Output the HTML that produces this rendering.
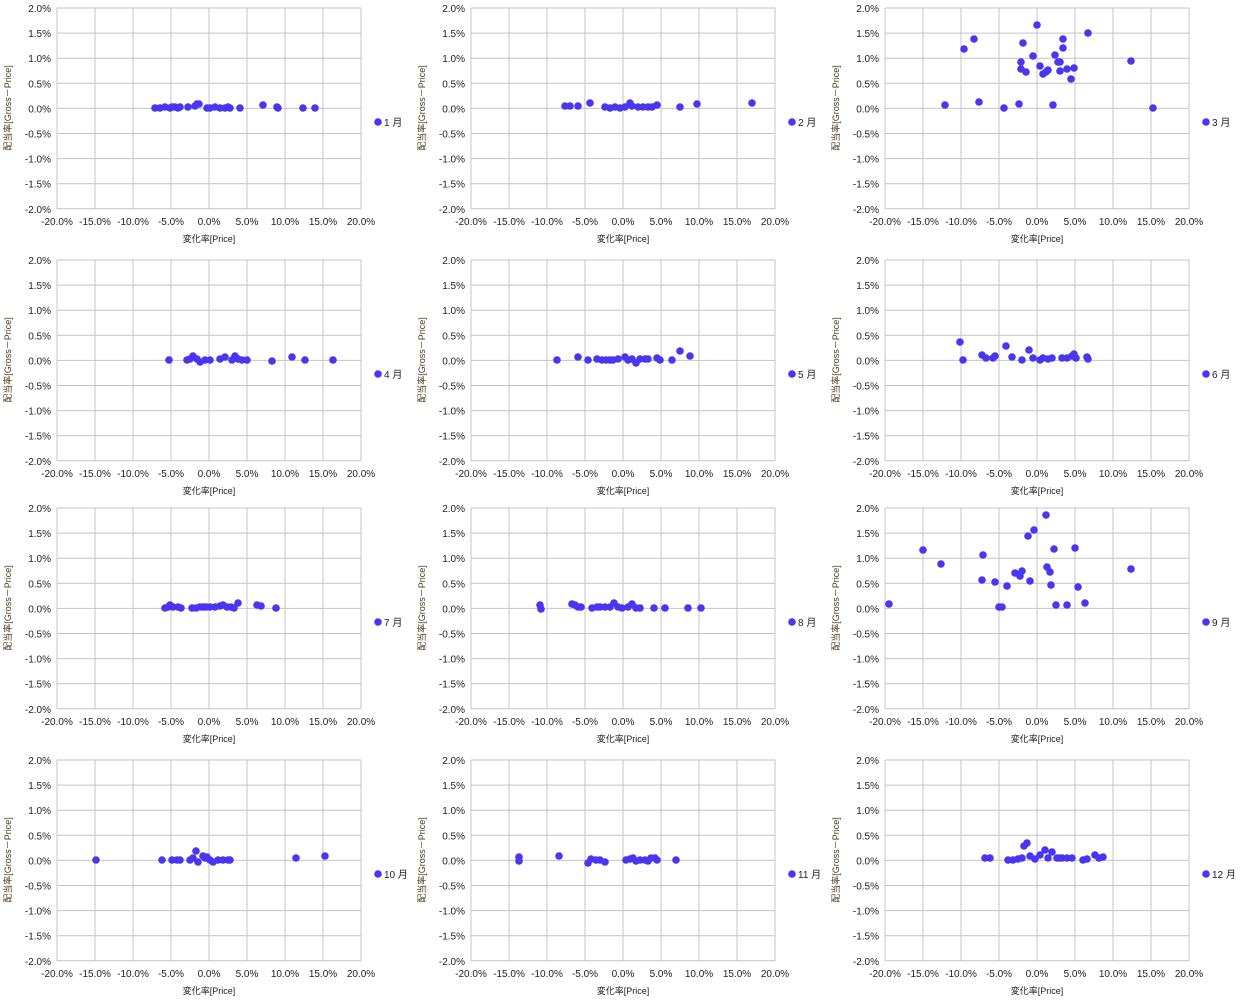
<!DOCTYPE html>
<html><head><meta charset="utf-8"><style>
body{margin:0;background:#fff;width:1240px;height:1000px;overflow:hidden}
svg text{font-family:"Liberation Sans","Noto Sans CJK JP",sans-serif;font-size:10px;fill:#222}
</style></head><body>
<svg id="s" width="1240" height="1000" xmlns="http://www.w3.org/2000/svg"></svg>
<script>
const S=document.getElementById('s');let h='';
const cols=[57,471,885],rows=[8,260,508,760];
const legX=[378,792,1206];
const data=[
[[155,108],[160,108],[165,107],[170,108],[172,107],[175,107],[178,108],[180,107],[188,107],[195,106],[197,104],[199,104],[207,108],[210,108],[215,107],[220,108],[225,108],[228,107],[230,108],[240,108],[263,105],[277,107],[278,108],[303,108],[315,108]],
[[565,106],[570,106],[578,106],[590,103],[605,107],[610,108],[615,107],[620,108],[625,107],[630,103],[632,106],[638,107],[643,107],[648,107],[652,107],[657,105],[680,107],[697,104],[752,103]],
[[945,105],[964,49],[974,39],[979,102],[1004,108],[1019,104],[1021,62],[1023,43],[1021,69],[1026,72],[1033,56],[1037,25],[1040,66],[1043,74],[1046,72],[1048,70],[1053,105],[1055,55],[1058,62],[1060,71],[1060,62],[1063,48],[1063,39],[1067,69],[1071,79],[1074,68],[1088,33],[1131,61],[1153,108]],
[[169,360],[187,360],[190,359],[193,356],[197,359],[200,362],[205,360],[210,360],[220,359],[225,357],[232,360],[235,356],[238,359],[242,360],[247,360],[272,361],[292,357],[305,360],[333,360]],
[[557,360],[578,357],[588,360],[597,359],[602,360],[606,360],[610,360],[613,360],[618,359],[625,357],[628,360],[632,359],[636,363],[640,359],[645,359],[648,359],[657,358],[660,360],[672,360],[680,351],[690,356]],
[[960,342],[963,360],[982,355],[986,358],[993,358],[995,356],[1006,346],[1012,357],[1022,360],[1029,350],[1033,358],[1040,360],[1043,358],[1048,359],[1052,358],[1062,358],[1067,358],[1072,356],[1074,354],[1076,358],[1087,357],[1088,359]],
[[165,608],[168,607],[170,605],[173,607],[178,607],[181,608],[192,608],[196,608],[200,607],[203,607],[206,607],[210,607],[215,607],[220,606],[223,605],[227,607],[231,607],[234,608],[238,603],[257,605],[261,606],[276,608]],
[[540,605],[541,609],[572,604],[575,605],[578,607],[581,607],[592,608],[597,607],[600,607],[605,607],[610,607],[614,603],[618,607],[622,608],[628,607],[632,604],[636,608],[640,608],[654,608],[665,608],[688,608],[701,608]],
[[889,604],[923,550],[941,564],[982,580],[983,555],[995,582],[999,607],[1002,607],[1007,586],[1015,573],[1020,576],[1022,571],[1028,536],[1030,581],[1034,530],[1046,515],[1047,567],[1050,572],[1051,585],[1054,549],[1056,605],[1067,605],[1075,548],[1078,587],[1085,603],[1131,569]],
[[96,860],[162,860],[172,860],[177,860],[180,860],[190,860],[193,858],[196,851],[198,862],[203,856],[205,858],[207,857],[210,860],[213,862],[218,860],[223,860],[228,860],[230,860],[296,858],[325,856]],
[[519,857],[519,861],[559,856],[588,863],[591,859],[596,860],[600,860],[605,862],[626,860],[630,859],[633,858],[636,861],[640,860],[645,860],[648,861],[651,858],[655,858],[657,860],[676,860]],
[[985,858],[990,858],[1008,860],[1013,860],[1018,859],[1022,858],[1024,846],[1027,843],[1030,856],[1035,859],[1040,855],[1045,850],[1048,858],[1052,852],[1057,858],[1060,858],[1062,858],[1067,858],[1072,858],[1083,860],[1087,859],[1095,855],[1099,858],[1103,857]]
];
const yl=['2.0%','1.5%','1.0%','0.5%','0.0%','-0.5%','-1.0%','-1.5%','-2.0%'];
const xl=['-20.0%','-15.0%','-10.0%','-5.0%','0.0%','5.0%','10.0%','15.0%','20.0%'];
for(let r=0;r<4;r++)for(let c=0;c<3;c++){
 const x0=cols[c],y0=rows[r],i=r*3+c;
 for(let k=0;k<9;k++){
  const y=y0+k*25.1,x=x0+k*38;
  h+=`<line x1="${x0}" x2="${x0+304}" y1="${y}" y2="${y}" stroke="#c4c4c4"/>`;
  h+=`<line x1="${x}" x2="${x}" y1="${y0}" y2="${y0+201}" stroke="#c4c4c4"/>`;
  h+=`<text x="${x0-6}" y="${y+4}" text-anchor="end">${yl[k]}</text>`;
  h+=`<text x="${x}" y="${y0+217}" text-anchor="middle">${xl[k]}</text>`;
 }
 h+=`<text x="${x0+152}" y="${y0+234}" text-anchor="middle" style="font-size:9px">変化率[Price]</text>`;
 h+=`<text transform="translate(${x0-46},${y0+100}) rotate(-90)" text-anchor="middle" style="font-size:9px;fill:#4a3a1a">配当率[Gross－Price]</text>`;
 for(const p of data[i])h+=`<circle cx="${p[0]}" cy="${p[1]}" r="3.8" fill="#4a35f0"/>`;
 const lx=legX[c],ly=y0+114;
 h+=`<circle cx="${lx}" cy="${ly}" r="3.8" fill="#4a35f0"/><text x="${lx+6}" y="${ly+4}">${i+1} 月</text>`;
}
S.innerHTML=h;
</script>
</body></html>
